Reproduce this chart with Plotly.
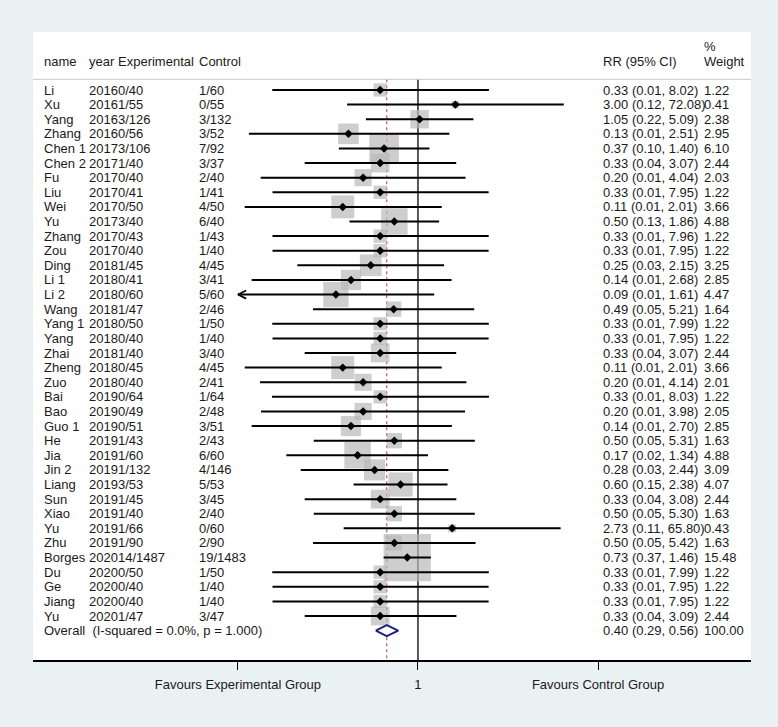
import plotly.graph_objects as go

# study rows, top to bottom
names = ["Li", "Xu", "Yang", "Zhang", "Chen 1", "Chen 2", "Fu", "Liu", "Wei", "Yu",
         "Zhang", "Zou", "Ding", "Li 1", "Li 2", "Wang", "Yang 1", "Yang", "Zhai", "Zheng",
         "Zuo", "Bai", "Bao", "Guo 1", "He", "Jia", "Jin 2", "Liang", "Sun", "Xiao",
         "Yu", "Zhu", "Borges", "Du", "Ge", "Jiang", "Yu"]
years = ["2016", "2016", "2016", "2016", "2017", "2017", "2017", "2017", "2017", "2017",
         "2017", "2017", "2018", "2018", "2018", "2018", "2018", "2018", "2018", "2018",
         "2018", "2019", "2019", "2019", "2019", "2019", "2019", "2019", "2019", "2019",
         "2019", "2019", "2020", "2020", "2020", "2020", "2020"]
experimental = ["0/40", "1/55", "3/126", "0/56", "3/106", "1/40", "0/40", "0/41", "0/50", "3/40",
                "0/43", "0/40", "1/45", "0/41", "0/60", "1/47", "0/50", "0/40", "1/40", "0/45",
                "0/40", "0/64", "0/49", "0/51", "1/43", "1/60", "1/132", "3/53", "1/45", "1/40",
                "1/66", "1/90", "14/1487", "0/50", "0/40", "0/40", "1/47"]
control = ["1/60", "0/55", "3/132", "3/52", "7/92", "3/37", "2/40", "1/41", "4/50", "6/40",
           "1/43", "1/40", "4/45", "3/41", "5/60", "2/46", "1/50", "1/40", "3/40", "4/45",
           "2/41", "1/64", "2/48", "3/51", "2/43", "6/60", "4/146", "5/53", "3/45", "2/40",
           "0/60", "2/90", "19/1483", "1/50", "1/40", "1/40", "3/47"]
rr = [0.33, 3.00, 1.05, 0.13, 0.37, 0.33, 0.20, 0.33, 0.11, 0.50,
      0.33, 0.33, 0.25, 0.14, 0.09, 0.49, 0.33, 0.33, 0.33, 0.11,
      0.20, 0.33, 0.20, 0.14, 0.50, 0.17, 0.28, 0.60, 0.33, 0.50,
      2.73, 0.50, 0.73, 0.33, 0.33, 0.33, 0.33]
# lower limits estimated from the drawn line ends (printed values are rounded)
ci_lo = [0.0139, 0.125, 0.217, 0.0070, 0.098, 0.036, 0.0099, 0.0140, 0.0062, 0.134,
         0.0140, 0.0140, 0.029, 0.0076, 0.0050, 0.046, 0.0139, 0.0140, 0.036, 0.0062,
         0.0097, 0.0138, 0.0100, 0.0076, 0.047, 0.021, 0.032, 0.151, 0.036, 0.047,
         0.113, 0.046, 0.365, 0.0139, 0.0140, 0.0140, 0.036]
ci_hi = [8.02, 72.08, 5.09, 2.51, 1.40, 3.07, 4.04, 7.95, 2.01, 1.86,
         7.96, 7.95, 2.15, 2.68, 1.61, 5.21, 7.99, 7.95, 3.07, 2.01,
         4.14, 8.03, 3.98, 2.70, 5.31, 1.34, 2.44, 2.38, 3.08, 5.30,
         65.80, 5.42, 1.46, 7.99, 7.95, 7.95, 3.09]
ci_text = ["0.33 (0.01, 8.02)", "3.00 (0.12, 72.08)", "1.05 (0.22, 5.09)", "0.13 (0.01, 2.51)",
           "0.37 (0.10, 1.40)", "0.33 (0.04, 3.07)", "0.20 (0.01, 4.04)", "0.33 (0.01, 7.95)",
           "0.11 (0.01, 2.01)", "0.50 (0.13, 1.86)", "0.33 (0.01, 7.96)", "0.33 (0.01, 7.95)",
           "0.25 (0.03, 2.15)", "0.14 (0.01, 2.68)", "0.09 (0.01, 1.61)", "0.49 (0.05, 5.21)",
           "0.33 (0.01, 7.99)", "0.33 (0.01, 7.95)", "0.33 (0.04, 3.07)", "0.11 (0.01, 2.01)",
           "0.20 (0.01, 4.14)", "0.33 (0.01, 8.03)", "0.20 (0.01, 3.98)", "0.14 (0.01, 2.70)",
           "0.50 (0.05, 5.31)", "0.17 (0.02, 1.34)", "0.28 (0.03, 2.44)", "0.60 (0.15, 2.38)",
           "0.33 (0.04, 3.08)", "0.50 (0.05, 5.30)", "2.73 (0.11, 65.80)", "0.50 (0.05, 5.42)",
           "0.73 (0.37, 1.46)", "0.33 (0.01, 7.99)", "0.33 (0.01, 7.95)", "0.33 (0.01, 7.95)",
           "0.33 (0.04, 3.09)"]
weights = [1.22, 0.41, 2.38, 2.95, 6.10, 2.44, 2.03, 1.22, 3.66, 4.88,
           1.22, 1.22, 3.25, 2.85, 4.47, 1.64, 1.22, 1.22, 2.44, 3.66,
           2.01, 1.22, 2.05, 2.85, 1.63, 4.88, 3.09, 4.07, 2.44, 1.63,
           0.43, 1.63, 15.48, 1.22, 1.22, 1.22, 2.44]

overall_label = "Overall  (I-squared = 0.0%, p = 1.000)"
overall_rr = 0.40
overall_lo = 0.29
overall_hi = 0.56
overall_ci_text = "0.40 (0.29, 0.56)"
overall_weight = 100.00

tick_vals = [0.00508, 1, 196.9]
tick_text = ["Favours Experimental Group", "1", "Favours Control Group"]

# ---- geometry (pixels of the 778x727 page)
W, H = 778, 727
PL, PR, PT, PB = 33, 751, 32, 660
n = len(names)
y_bottom, y_top = 39.01, -3.97
x_range = [-4.906, 4.244]  # log10
sep_y = -0.73
font = dict(family="Arial, Liberation Sans, sans-serif", size=13, color="#1a1a1a")


def px(x):
    return (x - PL - 2) / (PR - PL)


rows = list(range(n))
fig = go.Figure()

# vertical reference lines (under the squares)
fig.add_trace(go.Scatter(x=[1, 1], y=[sep_y, y_bottom], mode="lines",
                         line=dict(color="black", width=1.3), hoverinfo="skip"))
fig.add_trace(go.Scatter(x=[overall_rr, overall_rr], y=[sep_y, y_bottom], mode="lines",
                         line=dict(color="#b94a5c", width=1.1, dash="3px,3px"), hoverinfo="skip"))

# weight squares
fig.add_trace(go.Scatter(x=rr, y=rows, mode="markers",
                         marker=dict(symbol="square", color="#b9b9b9",
                                     size=[12 * w ** 0.5 for w in weights], line=dict(width=0)),
                         hoverinfo="skip"))

# confidence intervals, clipped at the axis limits
cx, cy = [], []
ax_x, ax_y = [], []
for i in rows:
    lo = max(ci_lo[i], tick_vals[0])
    hi = min(ci_hi[i], tick_vals[-1])
    cx += [lo, hi, None]
    cy += [i, i, None]
    if ci_lo[i] < tick_vals[0]:
        ax_x += [lo * 1.27, lo, lo * 1.27, None]
        ax_y += [i - 0.28, i, i + 0.28, None]
fig.add_trace(go.Scatter(x=cx, y=cy, mode="lines", line=dict(color="black", width=2),
                         hoverinfo="skip"))
fig.add_trace(go.Scatter(x=ax_x, y=ax_y, mode="lines", line=dict(color="black", width=1.8),
                         hoverinfo="skip"))

# point estimates
fig.add_trace(go.Scatter(x=rr, y=rows, mode="markers",
                         marker=dict(symbol="diamond", color="black", size=6.5),
                         hoverinfo="skip"))

# overall diamond
oy = n
fig.add_trace(go.Scatter(x=[overall_lo, overall_rr, overall_hi, overall_rr, overall_lo],
                         y=[oy, oy - 0.37, oy, oy + 0.37, oy], mode="lines",
                         fill="toself", fillcolor="white",
                         line=dict(color="#1c2180", width=2), hoverinfo="skip"))

# header separator
fig.add_shape(type="line", xref="paper", yref="y", x0=0, x1=1, y0=sep_y, y1=sep_y,
              line=dict(color="#c8c8c8", width=1))

ann = []


def txt(x, y, s):
    ann.append(dict(x=px(x), y=y, xref="paper", yref="y", text=s, showarrow=False,
                    xanchor="left", yanchor="middle", font=font))


hy = -1.985
txt(44.3, hy, "name")
txt(89.3, hy, "year")
txt(118.3, hy, "Experimental")
txt(199.3, hy, "Control")
txt(602.7, hy, "RR (95% CI)")
txt(703.5, -2.96, "%")
txt(703.5, hy, "Weight")

for i in rows:
    txt(44.3, i, names[i])
    txt(89.3, i, years[i] + experimental[i])
    txt(199.3, i, control[i])
    txt(602.7, i, ci_text[i])
    txt(704.3, i, f"{weights[i]:.2f}")

txt(44.3, oy, overall_label)
txt(602.7, oy, overall_ci_text)
txt(704.3, oy, f"{overall_weight:.2f}")

fig.update_layout(
    width=W, height=H,
    margin=dict(l=PL, r=W - PR, t=PT, b=H - PB, pad=0),
    paper_bgcolor="#eaf1f3", plot_bgcolor="white",
    showlegend=False,
    annotations=ann,
    xaxis=dict(type="log", range=x_range, tickvals=tick_vals, ticktext=tick_text,
               ticks="outside", ticklen=8, tickwidth=1.3, tickcolor="black",
               showline=True, linecolor="black", linewidth=1.5,
               showgrid=False, zeroline=False, tickfont=font,
               ticklabelstandoff=4, fixedrange=True),
    yaxis=dict(visible=False, range=[y_bottom, y_top], fixedrange=True),
)

# drop the browser's default page margin so the figure sits at the page origin
fig.write_html("out.html", config={"displayModeBar": False},
               post_script="document.body.style.margin='0';document.body.style.overflow='hidden';")
